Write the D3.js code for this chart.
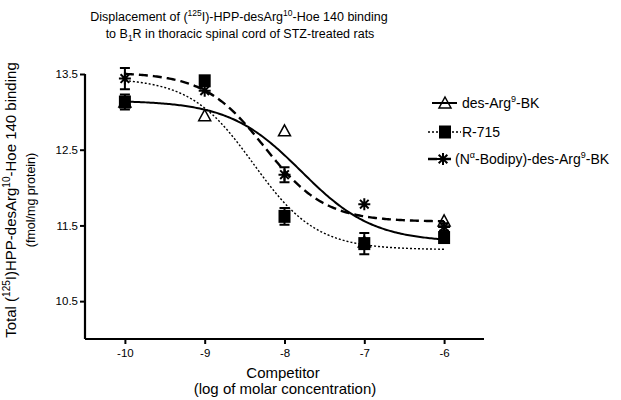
<!DOCTYPE html>
<html>
<head>
<meta charset="utf-8">
<script src="https://cdn.jsdelivr.net/npm/d3@7"></script>
<style>
  body { margin: 0; background: #fff; }
  svg { display: block; font-family: "Liberation Sans", Arial, sans-serif; }
</style>
</head>
<body>
<svg id="chart" width="621" height="400"></svg>
<script>
// competitor concentrations (log M)
var logConc = [-10, -9, -8, -7, -6];

// des-Arg9-BK (open triangles)
var desArgMean = [13.13, 12.95, 12.75, 11.28, 11.56];
var desArgSem = [0, 0, 0, 0, 0];
// R-715 (filled squares)
var r715Mean = [13.13, 13.41, 11.62, 11.26, 11.34];
var r715Sem = [0.1, 0, 0.11, 0.14, 0];
// (Na-Bodipy)-des-Arg9-BK (asterisks)
var bodipyMean = [13.44, 13.28, 12.17, 11.78, 11.48];
var bodipySem = [0.14, 0, 0.1, 0, 0.05];

// one-site fit parameters: top, bottom, logEC50, hill
var desArgFit = [13.15, 11.28, -7.79, 0.96];
var r715Fit = [13.45, 11.18, -8.39, 1.1];
var bodipyFit = [13.52, 11.55, -8.25, 1.15];

var xTicks = [-10, -9, -8, -7, -6];
var yTicks = [10.5, 11.5, 12.5, 13.5];

var series = [
  { key: 'des-Arg9-BK', mean: desArgMean, sem: desArgSem, fit: desArgFit, dash: null, width: 2, marker: 'triangle' },
  { key: 'R-715', mean: r715Mean, sem: r715Sem, fit: r715Fit, dash: '2,2', width: 1.4, marker: 'square' },
  { key: 'bodipy', mean: bodipyMean, sem: bodipySem, fit: bodipyFit, dash: '9,5', width: 2.4, marker: 'star' }
];

var svg = d3.select('#chart');
var margin = { top: 74, right: 137, bottom: 61, left: 85 };
var width = 621 - margin.left - margin.right,
  height = 400 - margin.top - margin.bottom;

var x = d3.scaleLinear().domain([-10.5, -5.5]).range([0, width]);
var y = d3.scaleLinear().domain([10, 13.5]).range([height, 0]);

var g = svg.append('g')
  .attr('transform', 'translate(' + margin.left + ',' + margin.top + ')');

// axes
var xAxis = d3.axisBottom(x).tickValues(xTicks).tickSize(5).tickPadding(5)
  .tickFormat(function(d) { return d3.format('d')(d).replace('−', '-'); });
var yAxis = d3.axisLeft(y).tickValues(yTicks).tickSize(5).tickPadding(2)
  .tickFormat(d3.format('.1f'));

var gx = g.append('g').attr('transform', 'translate(0,' + height + ')').call(xAxis);
var gy = g.append('g').call(yAxis);
[gx, gy].forEach(function(a) {
  a.select('.domain').attr('stroke-width', 2.2);
  a.selectAll('.tick line').attr('stroke-width', 2);
  a.selectAll('.tick text').attr('font-size', 11.5).attr('font-family', '"Liberation Sans", Arial, sans-serif').attr('fill', '#000');
});
gx.select('.domain').attr('d', 'M0,0H' + width);
gy.select('.domain').attr('d', 'M0,' + height + 'V0');

// fitted curves
function oneSite(p, v) {
  return p[1] + (p[0] - p[1]) / (1 + Math.pow(10, (v - p[2]) * p[3]));
}
var curveLine = d3.line()
  .x(function(d) { return x(d[0]); })
  .y(function(d) { return y(d[1]); });

series.forEach(function(s) {
  var pts = d3.range(-10, -5.999, 0.02).map(function(v) { return [v, oneSite(s.fit, v)]; });
  g.append('path')
    .datum(pts)
    .attr('d', curveLine)
    .attr('fill', 'none')
    .attr('stroke', '#000')
    .attr('stroke-width', s.width)
    .attr('stroke-dasharray', s.dash);
});

// markers
function drawMarker(sel, type, cx, cy) {
  if (type === 'triangle') {
    sel.append('path')
      .attr('d', 'M' + cx + ',' + (cy - 6) + 'L' + (cx + 6) + ',' + (cy + 5) + 'L' + (cx - 6) + ',' + (cy + 5) + 'Z')
      .attr('fill', 'none').attr('stroke', '#000').attr('stroke-width', 1.5);
  } else if (type === 'square') {
    sel.append('rect')
      .attr('x', cx - 6).attr('y', cy - 6.5).attr('width', 12).attr('height', 13)
      .attr('fill', '#000');
  } else {
    var r = 6, d = r * 0.72;
    sel.append('path')
      .attr('d', 'M' + (cx - r) + ',' + cy + 'H' + (cx + r) +
        'M' + cx + ',' + (cy - r) + 'V' + (cy + r) +
        'M' + (cx - d) + ',' + (cy - d) + 'L' + (cx + d) + ',' + (cy + d) +
        'M' + (cx - d) + ',' + (cy + d) + 'L' + (cx + d) + ',' + (cy - d))
      .attr('stroke', '#000').attr('stroke-width', 2).attr('fill', 'none');
  }
}

// error bars
series.forEach(function(s) {
  logConc.forEach(function(c, i) {
    if (!s.sem[i]) return;
    var cx = x(c), y0 = y(s.mean[i] - s.sem[i]), y1 = y(s.mean[i] + s.sem[i]);
    g.append('path')
      .attr('d', 'M' + cx + ',' + y0 + 'V' + y1 + 'M' + (cx - 5) + ',' + y0 + 'H' + (cx + 5) + 'M' + (cx - 5) + ',' + y1 + 'H' + (cx + 5))
      .attr('stroke', '#000').attr('stroke-width', 2).attr('fill', 'none');
  });
});

series.forEach(function(s) {
  logConc.forEach(function(c, i) {
    drawMarker(g, s.marker, x(c), y(s.mean[i]));
  });
});

// legend
var legend = svg.append('g').attr('font-size', 14);
var legendRows = [
  { s: series[0], y: 103, x1: 432, x2: 457, mx: 445 },
  { s: series[1], y: 132, x1: 428, x2: 461, mx: 445 },
  { s: series[2], y: 159, x1: 428, x2: 452, mx: 443 }
];
legendRows.forEach(function(r) {
  legend.append('line')
    .attr('x1', r.x1).attr('x2', r.x2).attr('y1', r.y).attr('y2', r.y)
    .attr('stroke', '#000').attr('stroke-width', r.s.width)
    .attr('stroke-dasharray', r.s.dash);
  drawMarker(legend, r.s.marker, r.mx, r.y);
});
var t0 = legend.append('text').attr('x', 462).attr('y', 108);
t0.append('tspan').text('des-Arg');
t0.append('tspan').attr('dy', -6).attr('font-size', 9).text('9');
t0.append('tspan').attr('dy', 6).text('-BK');
legend.append('text').attr('x', 462).attr('y', 137).text('R-715');
var t2 = legend.append('text').attr('x', 455).attr('y', 164);
t2.append('tspan').text('(N');
t2.append('tspan').attr('dy', -6).attr('font-size', 9).text('\u03b1');
t2.append('tspan').attr('dy', 6).text('-Bodipy)-des-Arg');
t2.append('tspan').attr('dy', -6).attr('font-size', 9).text('9');
t2.append('tspan').attr('dy', 6).text('-BK');

// title
var title = svg.append('g').attr('font-size', 12.5).attr('text-anchor', 'middle');
var l1 = title.append('text').attr('x', 239).attr('y', 21);
l1.append('tspan').text('Displacement of (');
l1.append('tspan').attr('dy', -5).attr('font-size', 8.5).text('125');
l1.append('tspan').attr('dy', 5).text('I)-HPP-desArg');
l1.append('tspan').attr('dy', -5).attr('font-size', 8.5).text('10');
l1.append('tspan').attr('dy', 5).text('-Hoe 140 binding');
var l2 = title.append('text').attr('x', 240).attr('y', 38);
l2.append('tspan').text('to B');
l2.append('tspan').attr('dy', 3).attr('font-size', 8.5).text('1');
l2.append('tspan').attr('dy', -3).text('R in thoracic spinal cord of STZ-treated rats');

// axis titles
var xt = svg.append('g').attr('font-size', 15).attr('text-anchor', 'middle');
xt.append('text').attr('x', 283).attr('y', 378).text('Competitor');
xt.append('text').attr('x', 285).attr('y', 394).text('(log of molar concentration)');

var yt = svg.append('g').attr('text-anchor', 'middle')
  .attr('transform', 'translate(0,200) rotate(-90)');
var y1 = yt.append('text').attr('x', 0).attr('y', 16).attr('font-size', 15);
y1.append('tspan').text('Total  (');
y1.append('tspan').attr('dy', -6).attr('font-size', 10).text('125');
y1.append('tspan').attr('dy', 6).text('I)HPP-desArg');
y1.append('tspan').attr('dy', -6).attr('font-size', 10).text('10');
y1.append('tspan').attr('dy', 6).text('-Hoe 140 binding');
yt.append('text').attr('x', 0).attr('y', 35).attr('font-size', 12.5).text('(fmol/mg protein)');
</script>
</body>
</html>
